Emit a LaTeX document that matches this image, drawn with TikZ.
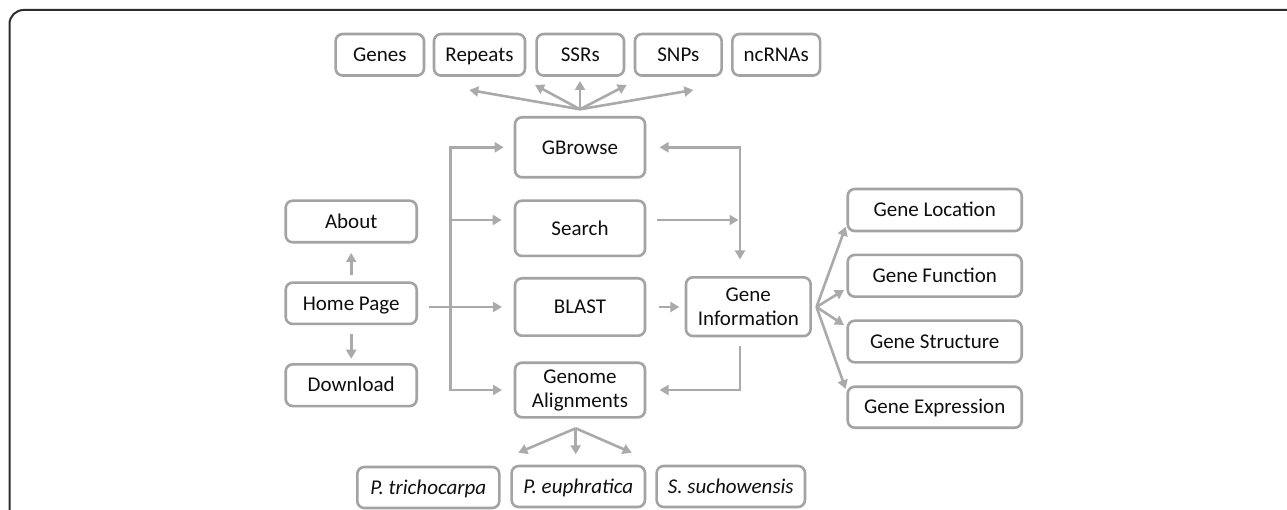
\documentclass[tikz,border=0pt]{standalone}
\usepackage{fontspec}
\setmainfont{Carlito}
\usetikzlibrary{arrows.meta}
\definecolor{boxgray}{RGB}{163,163,163}
\definecolor{arrgray}{RGB}{170,170,170}
\definecolor{framegray}{RGB}{45,45,45}
\definecolor{txt}{RGB}{15,15,15}
\begin{document}
\begin{tikzpicture}[x=1pt,y=-1pt,
  box/.style={draw=boxgray, line width=2.6pt, rounded corners=7pt, fill=white,
    inner sep=0pt, font=\fontsize{21}{24}\selectfont, text=txt, align=center},
  one/.style={box, text height=17.5pt, text depth=4pt},
  conn/.style={draw=arrgray, line width=2.6pt},
  tip/.tip={Triangle[length=9pt,width=10pt]},
  arr/.style={conn, -tip},
  arrboth/.style={conn, tip-tip},
  framestyle/.style={draw=framegray, line width=2pt, rounded corners=14pt}]
\useasboundingbox (0,0) rectangle (1287,510);
\fill[white] (0,0) rectangle (1287,510);
\draw[framestyle] (9.5,530) -- (9.5,10) -- (1310,10);

% top row
\node[one, minimum width=88.3pt, minimum height=41.5pt] (genes)   at (379.8,54.8) {Genes};
\node[one, minimum width=91pt,   minimum height=41.5pt] (repeats) at (479.5,54.8) {Repeats};
\node[one, minimum width=87.3pt, minimum height=41.5pt] (ssrs)    at (580.3,54.8) {SSRs};
\node[one, minimum width=86.7pt, minimum height=41.5pt] (snps)    at (678.3,54.8) {SNPs};
\node[one, minimum width=87.7pt, minimum height=41.5pt] (ncrnas)  at (776.2,54.8) {ncRNAs};

% middle column
\node[one, minimum width=130pt, minimum height=60pt]   (gbrowse) at (580,147.3) {GBrowse};
\node[one, minimum width=130pt, minimum height=55.3pt] (search)  at (580,228.3) {Search};
\node[one, minimum width=130pt, minimum height=57.4pt] (blast)   at (580,307)   {BLAST};
\node[box, minimum width=130pt, minimum height=54.6pt] (genome)  at (580,390)   {Genome\\Alignments};

% left column
\node[one, minimum width=131pt, minimum height=41.6pt] (about)    at (351.2,221.5) {About};
\node[one, minimum width=131pt, minimum height=41.3pt] (home)     at (351.2,303.3) {Home Page};
\node[one, minimum width=131pt, minimum height=41.7pt] (download) at (351.2,385.2) {Download};

% gene information
\node[box, minimum width=124.7pt, minimum height=58.7pt] (gi) at (748.3,306.7) {Gene\\Information};

% right column
\node[one, minimum width=174pt, minimum height=42pt]   (loc)   at (934.7,210)   {Gene Location};
\node[one, minimum width=174pt, minimum height=41.7pt] (func)  at (934.7,275.8) {Gene Function};
\node[one, minimum width=174pt, minimum height=41.6pt] (struc) at (934.7,341.5) {Gene Structure};
\node[one, minimum width=174pt, minimum height=41pt]   (expr)  at (934.7,407.2) {Gene Expression};

% bottom row
\node[one, minimum width=142pt,   minimum height=41pt] (ptri) at (428.3,487.5) {\itshape P. trichocarpa};
\node[one, minimum width=133.3pt, minimum height=41pt] (peup) at (578.3,486.5) {\itshape P. euphratica};
\node[one, minimum width=148.3pt, minimum height=41pt] (ssuc) at (730.8,486.5) {\itshape S. suchowensis};

% helper coordinates
\coordinate (bus) at (450.5,0);
\coordinate (gx) at (740,0);
\coordinate (sw) at ([yshift=8.3pt]search.west);
\coordinate (se) at ([yshift=8.3pt]search.east);
\coordinate (gbtop) at (580,109.3);
\coordinate (t1) at (469.3,90);
\coordinate (t2) at (535,85);
\coordinate (t3) at (580,81);
\coordinate (t4) at (626.7,85);
\coordinate (t5) at (693.3,90);
\coordinate (fr) at (816.5,307);
\coordinate (r1) at (845.7,226.7);
\coordinate (r2) at (844,290);
\coordinate (r3) at (844,325);
\coordinate (r4) at (845.7,389);
\coordinate (gabot) at (575.7,428.3);
\coordinate (b1) at (518.3,452.7);
\coordinate (b2) at (575.7,454.3);
\coordinate (b3) at (631.7,452.7);

% GBrowse fan
\foreach \t in {t1,t2,t3,t4,t5} \draw[arr] (gbtop) -- (\t);

% home page arrows
\draw[arr, shorten <=6.7pt, shorten >=9.4pt] (home.north) -- (about.south);
\draw[arr, shorten <=8.3pt, shorten >=4.3pt] (home.south) -- (download.north);
\draw[arr, shorten <=10.6pt, shorten >=11.7pt] (home.east |- blast.west) -- (blast.west);

% bus
\draw[conn, line cap=rect] (gbrowse.west -| bus) -- (genome.west -| bus);
\draw[arr, shorten >=10pt] (gbrowse.west -| bus) -- (gbrowse.west);
\draw[arr, shorten >=12pt] (sw -| bus) -- (sw);
\draw[arr, shorten >=11.7pt] (genome.west -| bus) -- (genome.west);

% gene information links
\draw[arrboth, shorten <=13.3pt, shorten >=16.6pt] (gbrowse.east) -- (gbrowse.east -| gx) -- (gx |- gi.north);
\draw[arr, shorten <=10.7pt, shorten >=1.5pt] (se) -- (se -| gx);
\draw[arr, shorten <=13pt, shorten >=5.3pt] (blast.east) -- (blast.east -| gi.west);
\draw[arr, shorten <=9pt, shorten >=13.3pt] (gx |- gi.south) -- (gx |- genome.east) -- (genome.east);

% right fan
\foreach \t in {r1,r2,r3,r4} \draw[arr] (fr) -- (\t);

% bottom fan
\foreach \t in {b1,b2,b3} \draw[arr] (gabot) -- (\t);
\end{tikzpicture}
\end{document}
